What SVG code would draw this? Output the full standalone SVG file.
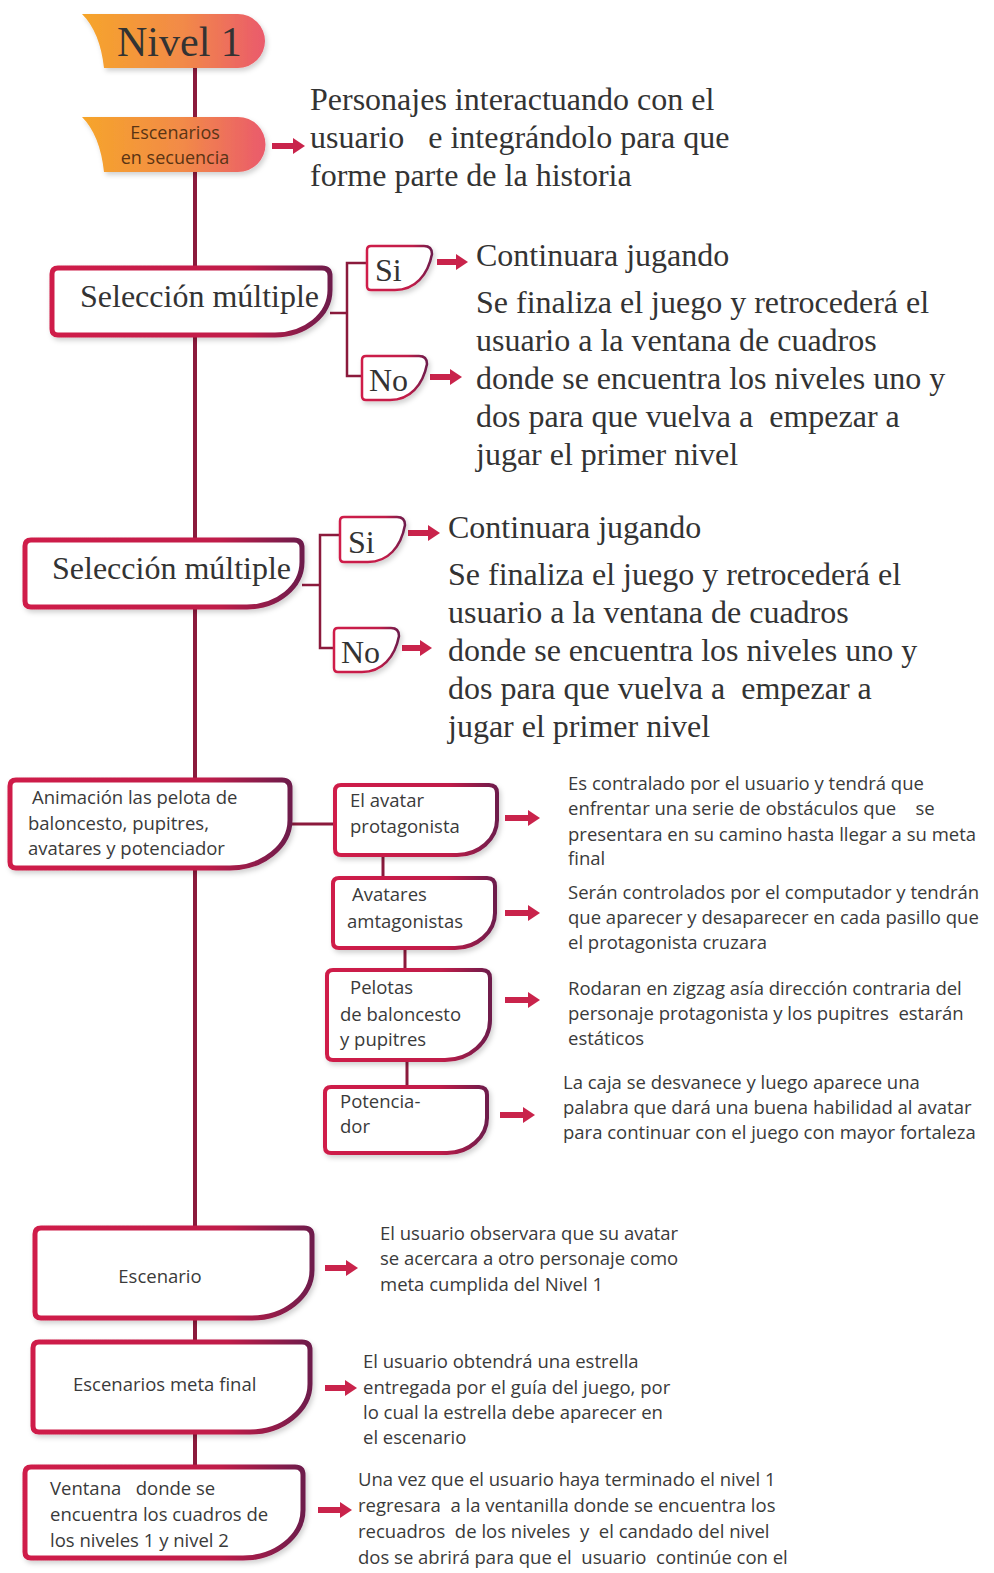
<svg xmlns="http://www.w3.org/2000/svg" width="994" height="1573" viewBox="0 0 994 1573">
<defs>
<linearGradient id="badge" x1="0" y1="0" x2="1" y2="0">
<stop offset="0" stop-color="#f6a52a"/>
<stop offset="0.55" stop-color="#f28a48"/>
<stop offset="1" stop-color="#ea5a6c"/>
</linearGradient>
<linearGradient id="bord" x1="0" y1="0" x2="1" y2="0">
<stop offset="0" stop-color="#cf1d48"/>
<stop offset="0.7" stop-color="#c01c48"/>
<stop offset="1" stop-color="#6e1a4c"/>
</linearGradient>
<filter id="sh" x="-10%" y="-10%" width="125%" height="135%">
<feDropShadow dx="2" dy="3" stdDeviation="2.5" flood-color="#000" flood-opacity="0.18"/>
</filter>
<marker id="ah" markerUnits="userSpaceOnUse" viewBox="0 0 12 16" markerWidth="12" markerHeight="16" refX="1" refY="8" orient="auto">
<path d="M0,0 L12,8 L0,16 Z" fill="#c9234b"/>
</marker>
<style>
.box{fill:#fff;stroke:url(#bord);stroke-width:5;filter:url(#sh)}
.sbox{fill:#fff;stroke:url(#bord);stroke-width:4;filter:url(#sh)}
.yn{fill:#fff;stroke:url(#bord);stroke-width:2.5;filter:url(#sh)}
.badge{fill:url(#badge);filter:url(#sh)}
.ln{stroke:#8b1a3c;fill:none}
.arr{stroke:#c9234b;stroke-width:6;marker-end:url(#ah)}
.serif{font-family:"Liberation Serif","Times New Roman",serif;fill:#333}
.sans{font-family:"Open Sans","Liberation Sans",Arial,sans-serif;fill:#3a3a3a}
.bt{font-family:"Open Sans","Liberation Sans",Arial,sans-serif;fill:#5a3414;font-size:18px;text-anchor:middle}
</style>
</defs>
<rect width="994" height="1573" fill="#fff"/>

<g id="connectors">
<line class="ln" x1="195" y1="60" x2="195" y2="1470" stroke-width="4"/>
<polyline class="ln" stroke-width="2.5" points="330,313 347,313"/>
<polyline class="ln" stroke-width="2.5" points="367,263 347,263 347,376 362,376"/>
<polyline class="ln" stroke-width="2.5" points="302,585 320,585"/>
<polyline class="ln" stroke-width="2.5" points="340,535 320,535 320,648 334,648"/>
<line class="ln" stroke-width="3" x1="290" y1="824" x2="335" y2="824"/>
<line class="ln" stroke-width="3" x1="383" y1="855" x2="383" y2="878"/>
<line class="ln" stroke-width="3" x1="405" y1="948" x2="405" y2="970"/>
<line class="ln" stroke-width="3" x1="407" y1="1060" x2="407" y2="1087"/>
<line class="arr" x1="272" y1="146" x2="294" y2="146"/>
<line class="arr" x1="437" y1="262" x2="457" y2="262"/>
<line class="arr" x1="430" y1="377" x2="451" y2="377"/>
<line class="arr" x1="408" y1="533" x2="429" y2="533"/>
<line class="arr" x1="402" y1="648" x2="421" y2="648"/>
<line class="arr" x1="505" y1="818" x2="529" y2="818"/>
<line class="arr" x1="505" y1="913" x2="529" y2="913"/>
<line class="arr" x1="505" y1="1000" x2="529" y2="1000"/>
<line class="arr" x1="500" y1="1115" x2="524" y2="1115"/>
<line class="arr" x1="325" y1="1268" x2="347" y2="1268"/>
<line class="arr" x1="325" y1="1388" x2="346" y2="1388"/>
<line class="arr" x1="318" y1="1510" x2="341" y2="1510"/>
</g>

<g id="nivel1">
<path class="badge" d="M82,14 H238 A27,27 0 0 1 238,68 H104 Q100,32 82,14 Z"/>
<text class="serif" x="117" y="56" font-size="42" fill="#2a2a2a">Nivel 1</text>
</g>

<g id="escenarios-secuencia">
<path class="badge" d="M82,117 H238 A27.5,27.5 0 0 1 238,172 H104 Q100,135 82,117 Z"/>
<text class="bt" x="175" y="139">Escenarios</text>
<text class="bt" x="175" y="164">en secuencia</text>
</g>
<g id="txt-personajes" class="serif" font-size="32">
<text x="310" y="110">Personajes interactuando con el</text>
<text x="310" y="148" xml:space="preserve">usuario   e integrándolo para que</text>
<text x="310" y="186">forme parte de la historia</text>
</g>

<g id="seleccion1">
<path class="box" d="M58,268 H322 Q330,268 330,276 V290 C330,315 305,335 275,335 H58 Q52,335 52,329 V274 Q52,268 58,268 Z"/>
<text class="serif" x="80" y="307" font-size="32">Selección múltiple</text>
</g>
<g id="si1">
<path class="yn" d="M371,246 H424 Q432,246 432,254 C428,275 415,290 395,290 H371 Q367,290 367,286 V250 Q367,246 371,246 Z"/>
<text class="serif" x="375" y="281" font-size="32">Si</text>
</g>
<g id="no1">
<path class="yn" d="M366,356 H419 Q427,356 427,364 C423,385 410,400 390,400 H366 Q362,400 362,396 V360 Q362,356 366,356 Z"/>
<text class="serif" x="369" y="391" font-size="32">No</text>
</g>
<g id="txt-si1" class="serif" font-size="32">
<text x="476" y="266">Continuara jugando</text>
</g>
<g id="txt-no1" class="serif" font-size="32">
<text x="476" y="313">Se finaliza el juego y retrocederá el</text>
<text x="476" y="351">usuario a la ventana de cuadros</text>
<text x="476" y="389">donde se encuentra los niveles uno y</text>
<text x="476" y="427" xml:space="preserve">dos para que vuelva a  empezar a</text>
<text x="476" y="465">jugar el primer nivel</text>
</g>

<g id="seleccion2">
<path class="box" d="M31,540 H294 Q302,540 302,548 V562 C302,587 277,607 247,607 H31 Q25,607 25,601 V546 Q25,540 31,540 Z"/>
<text class="serif" x="52" y="579" font-size="32">Selección múltiple</text>
</g>
<g id="si2">
<path class="yn" d="M344,517 H397 Q405,517 405,525 C401,547 388,562 368,562 H344 Q340,562 340,558 V521 Q340,517 344,517 Z"/>
<text class="serif" x="348" y="553" font-size="32">Si</text>
</g>
<g id="no2">
<path class="yn" d="M338,628 H391 Q399,628 399,636 C395,657 382,672 362,672 H338 Q334,672 334,668 V632 Q334,628 338,628 Z"/>
<text class="serif" x="341" y="663" font-size="32">No</text>
</g>
<g id="txt-si2" class="serif" font-size="32">
<text x="448" y="538">Continuara jugando</text>
</g>
<g id="txt-no2" class="serif" font-size="32">
<text x="448" y="585">Se finaliza el juego y retrocederá el</text>
<text x="448" y="623">usuario a la ventana de cuadros</text>
<text x="448" y="661">donde se encuentra los niveles uno y</text>
<text x="448" y="699" xml:space="preserve">dos para que vuelva a  empezar a</text>
<text x="448" y="737">jugar el primer nivel</text>
</g>

<g id="animacion">
<path class="box" d="M16,780 H282 Q290,780 290,788 V820 C290,846 263,868 230,868 H16 Q10,868 10,862 V786 Q10,780 16,780 Z"/>
<g class="sans" font-size="18.5">
<text x="32" y="804">Animación las pelota de</text>
<text x="28" y="830">baloncesto, pupitres,</text>
<text x="28" y="855">avatares y potenciador</text>
</g>
</g>

<g id="avatar-protagonista">
<path class="sbox" d="M341,785 H489 Q497,785 497,793 V820 C497,839 479,855 457,855 H341 Q335,855 335,849 V791 Q335,785 341,785 Z"/>
<g class="sans" font-size="18.5">
<text x="350" y="807">El avatar</text>
<text x="350" y="833">protagonista</text>
</g>
</g>
<g id="txt-avatar" class="sans" font-size="18.5">
<text x="568" y="790">Es contralado por el usuario y tendrá que</text>
<text x="568" y="815" xml:space="preserve">enfrentar una serie de obstáculos que    se</text>
<text x="568" y="841">presentara en su camino hasta llegar a su meta</text>
<text x="568" y="865">final</text>
</g>

<g id="avatares-antagonistas">
<path class="sbox" d="M339,878 H487 Q495,878 495,886 V913 C495,932 477,948 455,948 H339 Q333,948 333,942 V884 Q333,878 339,878 Z"/>
<g class="sans" font-size="18.5">
<text x="352" y="901">Avatares</text>
<text x="347" y="928">amtagonistas</text>
</g>
</g>
<g id="txt-avatares" class="sans" font-size="18.5">
<text x="568" y="899">Serán controlados por el computador y tendrán</text>
<text x="568" y="924">que aparecer y desaparecer en cada pasillo que</text>
<text x="568" y="949">el protagonista cruzara</text>
</g>

<g id="pelotas">
<path class="sbox" d="M333,970 H482 Q490,970 490,978 V1020 C490,1042 470,1060 445,1060 H333 Q327,1060 327,1054 V976 Q327,970 333,970 Z"/>
<g class="sans" font-size="18.5">
<text x="350" y="994">Pelotas</text>
<text x="340" y="1021">de baloncesto</text>
<text x="340" y="1046">y pupitres</text>
</g>
</g>
<g id="txt-pelotas" class="sans" font-size="18.5">
<text x="568" y="995">Rodaran en zigzag asía dirección contraria del</text>
<text x="568" y="1020" xml:space="preserve">personaje protagonista y los pupitres  estarán</text>
<text x="568" y="1045">estáticos</text>
</g>

<g id="potenciador">
<path class="sbox" d="M331,1087 H479 Q487,1087 487,1095 V1118 C487,1137 469,1153 447,1153 H331 Q325,1153 325,1147 V1093 Q325,1087 331,1087 Z"/>
<g class="sans" font-size="18.5">
<text x="340" y="1108">Potencia-</text>
<text x="340" y="1133">dor</text>
</g>
</g>
<g id="txt-potenciador" class="sans" font-size="18.5">
<text x="563" y="1089">La caja se desvanece y luego aparece una</text>
<text x="563" y="1114">palabra que dará una buena habilidad al avatar</text>
<text x="563" y="1139">para continuar con el juego con mayor fortaleza</text>
</g>

<g id="escenario">
<path class="box" d="M41,1228 H304 Q312,1228 312,1236 V1270 C312,1296 285,1318 252,1318 H41 Q35,1318 35,1312 V1234 Q35,1228 41,1228 Z"/>
<text class="sans" x="160" y="1283" font-size="18.5" text-anchor="middle">Escenario</text>
</g>
<g id="txt-escenario" class="sans" font-size="18.5">
<text x="380" y="1240">El usuario observara que su avatar</text>
<text x="380" y="1265">se acercara a otro personaje como</text>
<text x="380" y="1291">meta cumplida del Nivel 1</text>
</g>

<g id="meta-final">
<path class="box" d="M39,1342 H302 Q310,1342 310,1350 V1384 C310,1410 283,1432 250,1432 H39 Q33,1432 33,1426 V1348 Q33,1342 39,1342 Z"/>
<text class="sans" x="73" y="1391" font-size="18.5">Escenarios meta final</text>
</g>
<g id="txt-meta" class="sans" font-size="18.5">
<text x="363" y="1368">El usuario obtendrá una estrella</text>
<text x="363" y="1394">entregada por el guía del juego, por</text>
<text x="363" y="1419">lo cual la estrella debe aparecer en</text>
<text x="363" y="1444">el escenario</text>
</g>

<g id="ventana">
<path class="box" d="M31,1467 H295 Q303,1467 303,1475 V1510 C303,1536 276,1558 243,1558 H31 Q25,1558 25,1552 V1473 Q25,1467 31,1467 Z"/>
<g class="sans" font-size="18.5">
<text x="50" y="1495" xml:space="preserve">Ventana   donde se</text>
<text x="50" y="1521">encuentra los cuadros de</text>
<text x="50" y="1547">los niveles 1 y nivel 2</text>
</g>
</g>
<g id="txt-ventana" class="sans" font-size="18.5">
<text x="358" y="1486">Una vez que el usuario haya terminado el nivel 1</text>
<text x="358" y="1512" xml:space="preserve">regresara  a la ventanilla donde se encuentra los</text>
<text x="358" y="1538" xml:space="preserve">recuadros  de los niveles  y  el candado del nivel</text>
<text x="358" y="1564" xml:space="preserve">dos se abrirá para que el  usuario  continúe con el</text>
</g>
</svg>
